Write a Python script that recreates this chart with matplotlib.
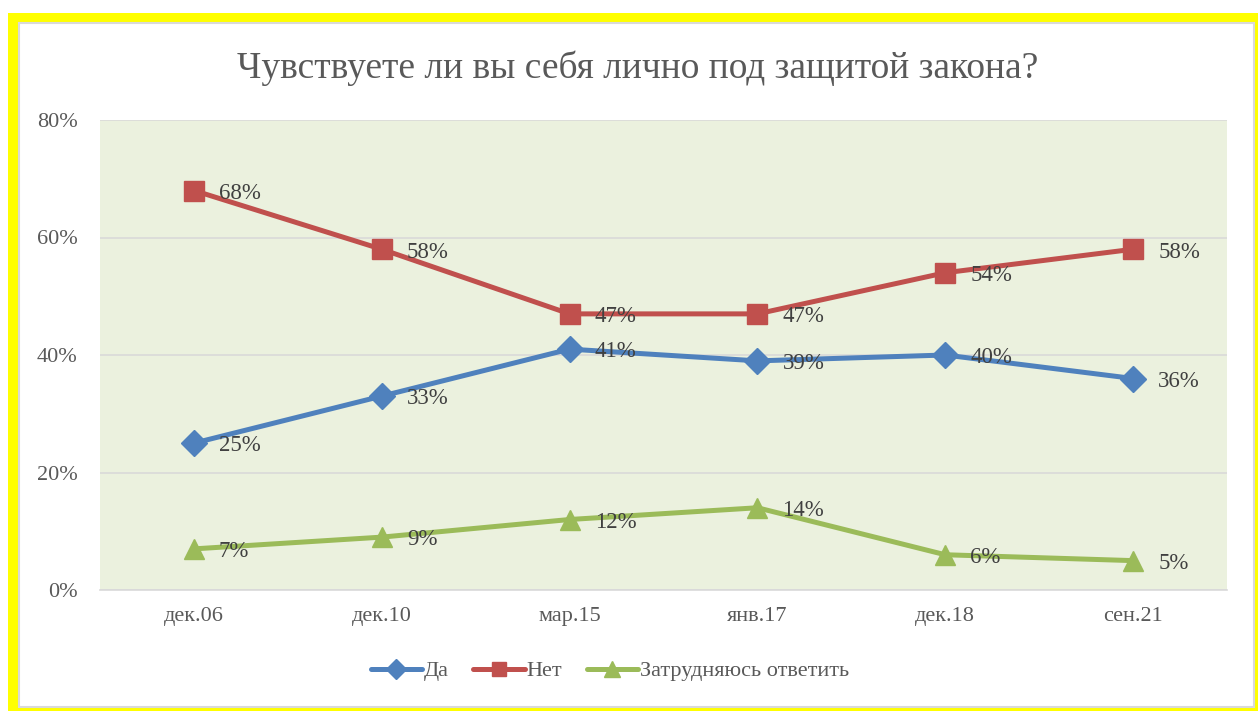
import matplotlib.pyplot as plt
from matplotlib.patches import Rectangle

plt.rcParams['font.family'] = ['Liberation Serif', 'DejaVu Serif']

categories = ['дек.06', 'дек.10', 'мар.15', 'янв.17', 'дек.18', 'сен.21']
yes_vals = [25, 33, 41, 39, 40, 36]
no_vals = [68, 58, 47, 47, 54, 58]
unsure_vals = [7, 9, 12, 14, 6, 5]
y_ticks = [0, 20, 40, 60, 80]

series = [
    ('Да', yes_vals, '#4F81BD', 'D', 13),
    ('Нет', no_vals, '#C0504D', 's', 14),
    ('Затрудняюсь ответить', unsure_vals, '#9BBB59', '^', 15),
]

W, H = 1258, 711
fig = plt.figure(figsize=(W / 100, H / 100), dpi=100, facecolor='white')

# yellow frame and inner box
fig.patches.append(Rectangle((8 / W, 0), 1 - 8 / W, (H - 13) / H,
                             transform=fig.transFigure, facecolor='#FFFF00',
                             edgecolor='none', zorder=-10))
fig.patches.append(Rectangle((19 / W, (H - 707) / H), (1254 - 19) / W, (707 - 23) / H,
                             transform=fig.transFigure, facecolor='white',
                             edgecolor='#D9D9D9', linewidth=1.5, zorder=-9))

ax = fig.add_axes([100 / W, (H - 590) / H, 1127 / W, 470 / H])
ax.set_facecolor('#EBF1DE')

x = list(range(len(categories)))
for name, vals, color, marker, ms in series:
    ax.plot(x, vals, color=color, linewidth=3.6, marker=marker, markersize=ms,
            label=name, solid_capstyle='round', zorder=3)
    for xi, v in zip(x, vals):
        ax.annotate(f'{v}%', (xi, v), xytext=(18, -2), textcoords='offset points',
                    ha='left', va='center', fontsize=16.5, color='#404040', zorder=4)

ax.set_xlim(-0.5, len(categories) - 0.5)
ax.set_ylim(0, 80)
ax.set_yticks(y_ticks)
ax.set_yticklabels([f'{t}%' for t in y_ticks])
ax.set_xticks(x)
ax.set_xticklabels(categories)
ax.grid(axis='y', color='#D9D9D9', linewidth=1.2, zorder=0)
ax.set_axisbelow(True)
for side in ['left', 'right', 'top']:
    ax.spines[side].set_visible(False)
ax.spines['bottom'].set_color('#D9D9D9')
ax.spines['bottom'].set_linewidth(1.2)
ax.tick_params(axis='both', length=0, labelsize=16, labelcolor='#595959')
ax.tick_params(axis='y', pad=16)
ax.tick_params(axis='x', pad=12)

fig.text(638 / W, (H - 68) / H, 'Чувствуете ли вы себя лично под защитой закона?',
         ha='center', va='center', fontsize=27, color='#595959')

fig.legend(loc='center', bbox_to_anchor=(610 / W, (H - 671) / H), ncol=3,
           frameon=False, fontsize=16, handlelength=2.3, handletextpad=0.1,
           columnspacing=1.1, markerscale=0.75, labelcolor='#595959')

fig.savefig('out.png', dpi=100, facecolor='white')
